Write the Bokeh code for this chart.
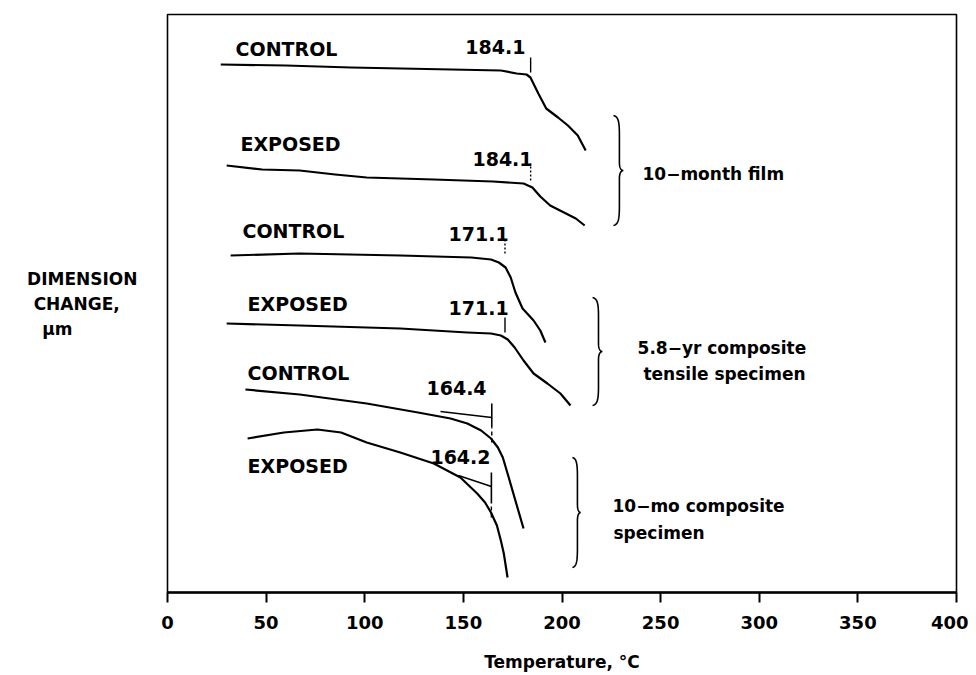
import numpy as np
from bokeh.plotting import figure
from bokeh.models import Range1d, FixedTicker, ColumnDataSource
from bokeh.core.properties import value
from bokeh.embed import file_html
from bokeh.resources import INLINE

# ---- data (temperature in degC, dimension change in arbitrary offset units) ----
film_ctrl_x = [27, 60, 93, 144, 169, 177, 182, 184, 186, 188, 192, 198, 203, 208, 212]
film_ctrl_y = [528, 527, 525, 523, 522, 519, 518, 515, 507, 499, 484, 475, 467, 457, 442]

film_exp_x = [30, 48, 67, 85, 101, 135, 165, 180.5, 185, 189, 194, 201, 207, 211.5]
film_exp_y = [427, 423, 422, 418, 415, 413, 411, 409, 405, 396, 387, 380, 374, 367]

c58_ctrl_x = [32, 67, 118, 154, 164, 168, 171.4, 174, 176.4, 180, 185.6, 189, 191.6]
c58_ctrl_y = [337, 339, 337, 335, 333, 330, 325, 315, 300, 284, 272, 262, 250]

c58_exp_x = [30, 67, 118, 152, 164, 169, 172.5, 176, 180.5, 185.6, 192.6, 199.2, 204.3]
c58_exp_y = [269, 267, 264, 260, 259, 257, 253, 245, 232, 219, 209, 199, 187]

c10_ctrl_x = [39.5, 67, 101, 127, 143.5, 152, 159, 164, 167.5, 170, 173, 177.4, 180.5]
c10_ctrl_y = [203, 198, 189, 180, 174, 169, 162, 154, 145, 135, 115, 85, 64]

c10_exp_x = [40.6, 59, 76, 88, 101, 118, 135, 148.5, 157, 161, 164, 167, 169, 170.5, 172.4]
c10_exp_y = [154, 160, 163, 160, 150, 140, 129, 115, 99, 90, 80, 67, 52, 39, 15]

# transition markers: (temperature, y_low, y_high, dash)
mark_x = [184.1, 184.1, 171.1, 171.1]
mark_y0 = [520, 412, 339, 260]
mark_y1 = [535, 429, 355, 275]
mark_dash = ["solid", "2 2", "2 2", "solid"]

# onset constructions for 10-mo composite
onset_x = [164.4, 164.2]
onset_solid = [(165, 189), (89, 120)]
onset_dash = [(150, 165), (75, 89)]
tangent_x = [(138.4, 164.4), (147.5, 164.2)]
tangent_y = [(181, 175), (117, 106)]

# curve labels
lab_text = ["CONTROL", "184.1", "EXPOSED", "184.1", "CONTROL", "171.1",
            "EXPOSED", "171.1", "CONTROL", "164.4", "EXPOSED", "164.2"]
lab_x = [34.5, 151, 37, 154.6, 38, 142.5, 40.6, 142.5, 40.6, 131.3, 40.6, 133.3]
lab_y = [544, 546, 449, 434, 362, 359, 289, 285, 220, 205, 127, 136]

# group annotations
grp_text = ["10\u2212month film", "5.8\u2212yr composite", "tensile specimen",
            "10\u2212mo composite", "specimen"]
grp_x = [240.8, 238.3, 241.3, 225.6, 226.1]
grp_y = [419, 245, 219, 87, 60]

# braces: (x_left, y_bottom, y_top, width)
brace_x = [226.1, 215.5, 205.3]
brace_y0 = [367, 187, 25]
brace_y1 = [477, 295, 135]
brace_w = [5.0, 5.0, 4.2]

x_ticks = [0, 50, 100, 150, 200, 250, 300, 350, 400]
NB = "\u00a0"
y_label_lines = ["DIMENSION", "CHANGE," + NB * 3, "\u03bcm" + NB * 11]
y_label = "\n".join(y_label_lines)

FONT = "DejaVu Sans"

p = figure(width=968, height=674, output_backend="svg", toolbar_location=None,
           x_range=Range1d(0, 400), y_range=Range1d(0, 578),
           min_border_left=167, min_border_right=12, min_border_top=14,
           min_border_bottom=82)
p.background_fill_color = "white"
p.border_fill_color = "white"
p.xgrid.visible = False
p.ygrid.visible = False
p.outline_line_color = "black"
p.outline_line_width = 1.6

ax = p.xaxis[0]
ax.ticker = FixedTicker(ticks=x_ticks)
ax.major_tick_out = 10
ax.major_tick_in = 0
ax.minor_tick_line_color = None
ax.major_tick_line_width = 2
ax.axis_line_width = 2.5
ax.major_label_standoff = 13
ax.major_label_text_font = FONT
ax.major_label_text_font_size = "18px"
ax.major_label_text_font_style = "bold"
ax.major_label_text_color = "black"
ax.axis_label = "Temperature, \u00b0C"
ax.axis_label_text_font = FONT
ax.axis_label_text_font_size = "17px"
ax.axis_label_text_font_style = "bold"
ax.axis_label_text_color = "black"
ax.axis_label_standoff = 20

yax = p.yaxis[0]
yax.ticker = FixedTicker(ticks=[])
yax.major_tick_line_color = None
yax.minor_tick_line_color = None
yax.axis_line_color = None
yax.major_label_text_font_size = "0px"
yax.axis_label = y_label
yax.axis_label_orientation = "horizontal"
yax.axis_label_text_font = FONT
yax.axis_label_text_font_size = "17px"
yax.axis_label_text_font_style = "bold"
yax.axis_label_text_color = "black"
yax.axis_label_text_line_height = 1.25
yax.axis_label_standoff = 30

for xs, ys in [(film_ctrl_x, film_ctrl_y), (film_exp_x, film_exp_y),
               (c58_ctrl_x, c58_ctrl_y), (c58_exp_x, c58_exp_y),
               (c10_ctrl_x, c10_ctrl_y), (c10_exp_x, c10_exp_y)]:
    p.line(xs, ys, line_color="black", line_width=2.2, line_join="round")

for mx, a, b, d in zip(mark_x, mark_y0, mark_y1, mark_dash):
    p.line([mx, mx], [a, b], line_color="black", line_width=1.4, line_dash=d)

for ox, s, d, tx, ty in zip(onset_x, onset_solid, onset_dash, tangent_x, tangent_y):
    p.line([ox, ox], list(s), line_color="black", line_width=1.6)
    p.line([ox, ox], list(d), line_color="black", line_width=1.4, line_dash="4 3")
    p.line(list(tx), list(ty), line_color="black", line_width=1.4)


def cubic(p0, c0, c1, p1, n=20):
    t = np.linspace(0, 1, n)[:, None]
    pts = ((1 - t) ** 3) * np.array(p0) + 3 * ((1 - t) ** 2) * t * np.array(c0) \
        + 3 * (1 - t) * t ** 2 * np.array(c1) + t ** 3 * np.array(p1)
    return pts


for bx, by0, by1, bw in zip(brace_x, brace_y0, brace_y1, brace_w):
    ym = (by0 + by1) / 2.0
    hh = (by1 - by0) / 2.0
    xm = bx + 0.6 * bw
    segs = [
        cubic((bx, by1), (bx + 0.5 * bw, by1 - 0.02 * hh), (xm, by1 - 0.12 * hh), (xm, by1 - 0.35 * hh)),
        cubic((xm, by1 - 0.35 * hh), (xm, ym + 0.5 * hh), (xm, ym + 0.3 * hh), (xm, ym + 0.15 * hh)),
        cubic((xm, ym + 0.15 * hh), (xm, ym + 0.04 * hh), (bx + 0.8 * bw, ym), (bx + bw, ym)),
        cubic((bx + bw, ym), (bx + 0.8 * bw, ym), (xm, ym - 0.04 * hh), (xm, ym - 0.15 * hh)),
        cubic((xm, ym - 0.15 * hh), (xm, ym - 0.3 * hh), (xm, ym - 0.5 * hh), (xm, by0 + 0.35 * hh)),
        cubic((xm, by0 + 0.35 * hh), (xm, by0 + 0.12 * hh), (bx + 0.5 * bw, by0 + 0.02 * hh), (bx, by0)),
    ]
    pts = np.vstack(segs)
    p.line(pts[:, 0], pts[:, 1], line_color="black", line_width=1.6)

src = ColumnDataSource(dict(x=lab_x, y=lab_y, t=lab_text))
p.text(x="x", y="y", text="t", source=src, text_font=value(FONT),
       text_font_size="19px", text_font_style="bold", text_baseline="middle",
       text_align="left", text_color="black")

src2 = ColumnDataSource(dict(x=grp_x, y=grp_y, t=grp_text))
p.text(x="x", y="y", text="t", source=src2, text_font=value(FONT),
       text_font_size="17px", text_font_style="bold", text_baseline="middle",
       text_align="left", text_color="black")

open("out.html", "w").write(file_html(p, INLINE))
